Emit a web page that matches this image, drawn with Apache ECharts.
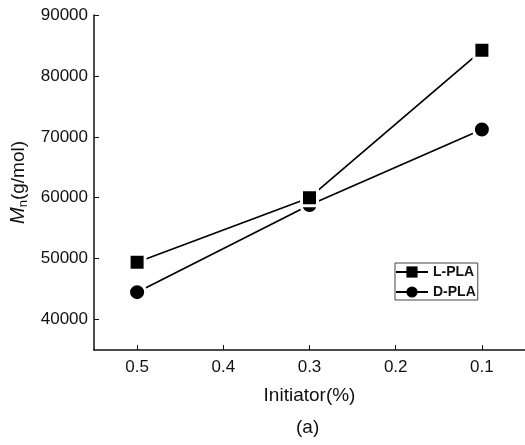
<!DOCTYPE html>
<html>
<head>
<meta charset="utf-8">
<script src="https://cdn.jsdelivr.net/npm/echarts@6/dist/echarts.min.js"></script>
<style>
  html, body { margin: 0; padding: 0; background: #fff; }
  #chart { width: 525px; height: 445px; }
</style>
</head>
<body>
<div id="chart"></div>
<script>
// Initiator content (%) and number-average molecular weight of the two polymers
const initiator = [0.5, 0.3, 0.1];
const lplaMn = [49400, 60000, 84200];
const dplaMn = [44500, 58800, 71200];
const xTicks = [0.5, 0.4, 0.3, 0.2, 0.1];
const yTicks = [40000, 50000, 60000, 70000, 80000, 90000];
const seriesNames = ['L-PLA', 'D-PLA'];

const font = 'Liberation Sans, Arial, sans-serif';
const ink = '#111';

const chart = echarts.init(document.getElementById('chart'), null, { renderer: 'canvas' });

function pairs(xs, ys) {
  return xs.map((x, i) => [x, ys[i]]);
}

chart.setOption({
  animation: false,
  backgroundColor: '#fff',
  textStyle: { fontFamily: font, color: ink },
  grid: { left: 94, right: 0, top: 15, bottom: 95 },
  legend: {
    orient: 'vertical',
    left: 395,
    top: 263,
    data: seriesNames,
    borderColor: '#444',
    borderWidth: 1,
    padding: [2, 2, 1, 0],
    itemWidth: 32,
    itemHeight: 14,
    itemGap: 6,
    itemStyle: { borderWidth: 0 },
    textStyle: { fontFamily: font, fontSize: 14, fontWeight: 'bold', color: ink }
  },
  xAxis: {
    type: 'value',
    inverse: true,
    min: 0.05,
    max: 0.55,
    name: 'Initiator(%)',
    nameLocation: 'middle',
    nameGap: 36,
    nameTextStyle: { fontFamily: font, fontSize: 19, color: ink },
    splitLine: { show: false },
    axisLine: { lineStyle: { color: ink, width: 1.5 } },
    axisTick: { inside: true, length: 5, customValues: xTicks, lineStyle: { color: ink } },
    axisLabel: {
      customValues: xTicks,
      margin: 9,
      fontFamily: font, fontSize: 17, color: ink,
      formatter: v => v.toFixed(1)
    }
  },
  yAxis: {
    type: 'value',
    min: 35000,
    max: 90000,
    name: '{i|M}{s|n}(g/mol)',
    nameLocation: 'middle',
    nameGap: 64,
    nameRotate: 90,
    nameTextStyle: {
      fontFamily: font, fontSize: 19, color: ink,
      rich: {
        i: { fontFamily: font, fontSize: 20, fontStyle: 'italic', color: ink },
        s: { fontFamily: font, fontSize: 13, color: ink, padding: [9, 0, 0, 0] }
      }
    },
    splitLine: { show: false },
    axisLine: { show: true, lineStyle: { color: ink, width: 1.5 } },
    axisTick: { show: true, inside: true, length: 5, customValues: yTicks, lineStyle: { color: ink } },
    axisLabel: {
      customValues: yTicks,
      margin: 6,
      fontFamily: font, fontSize: 17, color: ink,
      formatter: v => String(v)
    }
  },
  graphic: [{
    type: 'text',
    left: 296,
    top: 418,
    style: { text: '(a)', fontFamily: font, fontSize: 19, fill: ink }
  }],
  series: [
    {
      name: seriesNames[0],
      type: 'line',
      data: pairs(initiator, lplaMn),
      symbol: 'rect',
      symbolSize: 16,
      lineStyle: { color: '#000', width: 1.7 },
      itemStyle: { color: '#000', borderColor: '#fff', borderWidth: 3 },
      z: 3
    },
    {
      name: seriesNames[1],
      type: 'line',
      data: pairs(initiator, dplaMn),
      symbol: 'circle',
      symbolSize: 17,
      lineStyle: { color: '#000', width: 1.7 },
      itemStyle: { color: '#000', borderColor: '#fff', borderWidth: 3 },
      z: 2
    }
  ]
});
</script>
</body>
</html>
